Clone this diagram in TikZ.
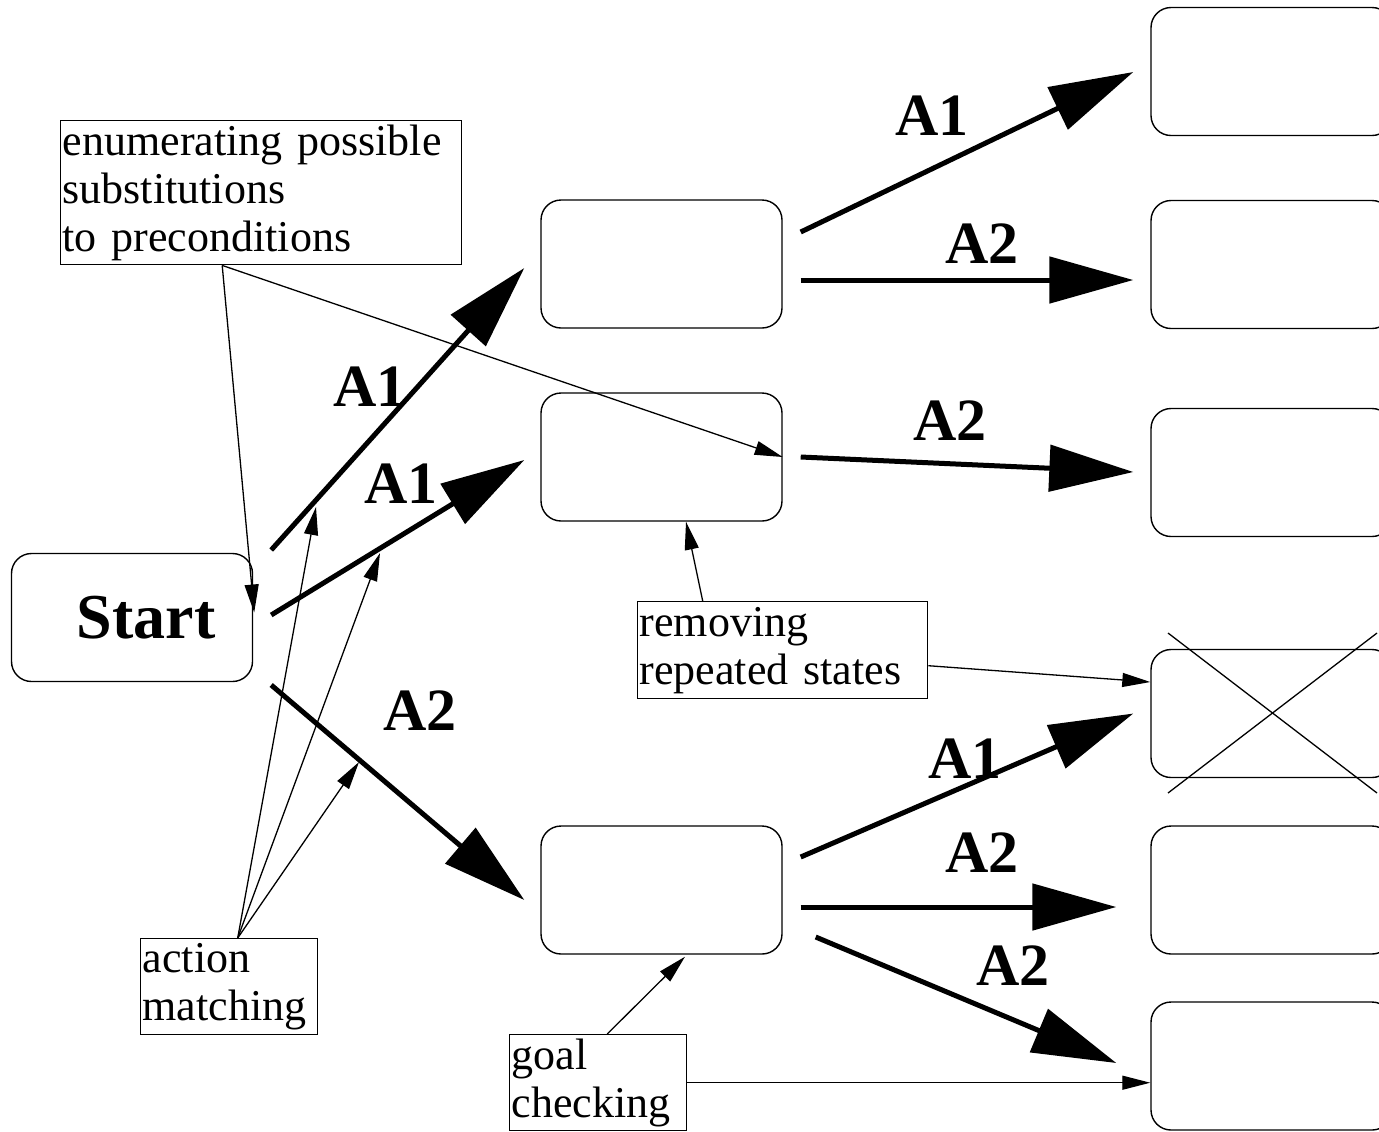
\documentclass[tikz,border=0pt]{standalone}
\usepackage{fontspec}
\setmainfont{Liberation Serif}
\usetikzlibrary{arrows.meta}

\tikzset{
  state/.style={draw, line width=0.7pt, rounded corners=10pt, minimum width=120.5pt,
    minimum height=64pt, inner sep=0pt},
  note/.style={draw, line width=0.7pt, inner xsep=1pt, inner ysep=0pt, align=left,
    anchor=north west, font=\fontsize{22}{24}\selectfont},
  act/.style={line width=2.5pt, -{Triangle[length=42pt,width=23pt]}},
  hint/.style={line width=0.65pt, -{Triangle[length=14pt,width=7pt]}},
  actlabel/.style={font=\fontsize{30}{30}\selectfont\bfseries, inner sep=0pt}
}

\begin{document}
\begin{tikzpicture}[x=0.5pt, y=-0.5pt]
  \useasboundingbox (0,0) rectangle (1379,1131);
  \clip (0,0) rectangle (1379,1131);
  % states
  \node[state, font=\fontsize{32}{32}\selectfont\bfseries] (start) at (132,617.5) {\hspace*{14pt}Start};
  \node[state] (m1) at (661.5,264) {};
  \node[state] (m2) at (661.5,457) {};
  \node[state] (m3) at (661.5,890) {};
  \node[state] (r1) at (1271.5,71.5) {};
  \node[state] (r2) at (1271.5,264.5) {};
  \node[state] (r3) at (1271.5,472.5) {};
  \node[state] (r4) at (1271.5,713.5) {};
  \node[state] (r5) at (1271.5,890) {};
  \node[state] (r6) at (1271.5,1066) {};
  \draw[line width=0.65pt] ([shift={(-103.5,-80.5)}]r4.center) -- ([shift={(105.5,79.5)}]r4.center);
  \draw[line width=0.65pt] ([shift={(-103.5,79.5)}]r4.center) -- ([shift={(105.5,-80.5)}]r4.center);
  % notes
  \node[note, text width=198.5pt, minimum height=72pt] (enumnote) at (60,120)
    {enumerating possible\\substitutions\\to preconditions};
  \node[note, text width=86.5pt, minimum height=48pt] (actnote) at (140,938)
    {action\\matching};
  \node[note, text width=143pt, minimum height=48.5pt] (remnote) at (637,601)
    {removing\\repeated states};
  \node[note, text width=86.5pt, minimum height=48pt] (goalnote) at (509,1034)
    {goal\\checking};
  % actions
  \foreach \a/\sa/\b/\sb/\lx/\ly/\t [count=\i] in {
      start.east/{18,-67.5}/m1.west/{-16,4}/370/387/A1,
      start.east/{18,-2.5}/m2.west/{-16,3}/401/484/A1,
      start.east/{18,67.5}/m3.west/{-16,10}/420/711/A2,
      m1.east/{18,-32}/r1.west/{-17,0.5}/932/116/A1,
      m1.east/{18,16}/r2.west/{-17,15.5}/982/244/A2,
      m2.east/{18,0}/r3.west/{-17,-0.5}/950/421/A2,
      m3.east/{18,-33}/r4.west/{-17,0}/965/759/A1,
      m3.east/{18,17}/r5.west/{-34,17}/982/853/A2,
      m3.east/{33,47}/r6.west/{-34,-3}/1013/966/A2} {
    \draw[act] ([shift={(\sa)}]\a) -- ([shift={(\sb)}]\b);
    \node[actlabel] (lbl\i) at (\lx,\ly) {\t};
  }
  % where the action arrows are hit
  \coordinate (hit1) at (316,507);
  \coordinate (hit2) at (380,553);
  \coordinate (hit3) at (359,762);
  \draw[hint] ([shift={(-39,0)}]enumnote.south) -- ([shift={(1,-5)}]start.east);
  \draw[hint] ([shift={(-39,0)}]enumnote.south) -- (m2.east);
  \foreach \h in {hit1,hit2,hit3}
    \draw[hint] ([shift={(8.5,0)}]actnote.north) -- (\h);
  \draw[hint] ([shift={(-80,0)}]remnote.north) -- ([shift={(24.5,0)}]m2.south);
  \draw[hint] ([shift={(0,15.5)}]remnote.east) -- ([shift={(0,-31.5)}]r4.west);
  \draw[hint] ([shift={(9,0)}]goalnote.north) -- ([shift={(23.5,2)}]m3.south);
  \draw[hint] (goalnote.east) -- (goalnote.east -| r6.west);
\end{tikzpicture}
\end{document}
